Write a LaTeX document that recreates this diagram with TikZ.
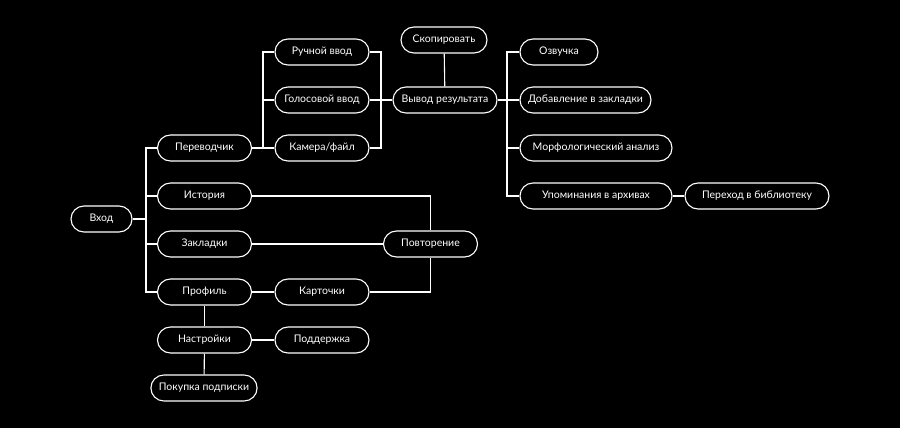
\documentclass[tikz,border=0pt]{standalone}
\usepackage{fontspec}
\setmainfont{Lato}
\tikzset{
  box/.style={draw=white, line width=1.1pt, rounded corners=13pt, minimum height=26pt,
    minimum width=94pt, inner xsep=8pt, text=white, font=\fontsize{10.5}{12}\selectfont},
  link/.style={draw=white, line width=1.1pt}
}
\begin{document}
\begin{tikzpicture}[x=1pt, y=-1pt]
    % background and frame
    \fill[black] (0,0) rectangle (900,428);
    \useasboundingbox (0,0) rectangle (900,428);

    % Left column
    \node[box, minimum width=61pt] (vhod) at (101.5,219) {Вход};
    \node[box] (perevod) at (204.5,148) {Переводчик};
    \node[box] (istoria) at (204.5,196) {История};
    \node[box] (zakl) at (204.5,244) {Закладки};
    \node[box] (profil) at (204.5,292) {Профиль};
    \node[box] (nastr) at (204.5,340) {Настройки};
    \node[box, minimum width=106pt] (pokup) at (204,388) {Покупка подписки};

    % Translator inputs
    \node[box] (ruchn) at (322,52) {Ручной ввод};
    \node[box] (golos) at (322,100) {Голосовой ввод};
    \node[box] (kamera) at (322,148) {Камера/файл};
    \node[box] (kart) at (322,292) {Карточки};
    \node[box] (podd) at (322,340) {Поддержка};

    % Result
    \node[box, minimum width=86pt] (skop) at (444,40) {Скопировать};
    \node[box, minimum width=104pt] (vyvod) at (445,100) {Вывод результата};
    \node[box] (povt) at (430.5,244) {Повторение};

    % Result actions
    \node[box, minimum width=78pt] (ozv) at (559,52) {Озвучка};
    \node[box, minimum width=131pt] (dobav) at (585.5,100) {Добавление в закладки};
    \node[box, minimum width=152pt] (morf) at (596,148) {Морфологический анализ};
    \node[box, minimum width=152pt] (upom) at (596,196) {Упоминания в архивах};
    \node[box, minimum width=144pt] (perehod) at (757,196) {Переход в библиотеку};

    % Junctions
    \coordinate (jL) at (146,219);
    \coordinate (jIn) at (263,148);
    \coordinate (jOut) at (381,100);
    \coordinate (jR) at (507,100);

    % Connectors
    \draw[link] (vhod) -- (jL);
    \draw[link] (perevod.west) -| (jL) |- (profil.west);
    \draw[link] (istoria.west) -| (jL);
    \draw[link] (zakl.west) -| (jL);

    \draw[link] (perevod) -- (kamera);
    \draw[link] (ruchn.west) -| (jIn);
    \draw[link] (golos.west) -| (jIn);

    \draw[link] (ruchn.east) -| (jOut) |- (kamera.east);
    \draw[link] (golos) -- (vyvod);
    \draw[link] (skop) -- (vyvod);

    \draw[link] (vyvod) -- (jR);
    \draw[link] (ozv.west) -| (jR) |- (upom.west);
    \draw[link] (dobav) -- (jR);
    \draw[link] (morf.west) -| (jR);
    \draw[link] (upom) -- (perehod);

    \draw[link] (istoria.east) -| (povt.north);
    \draw[link] (zakl) -- (povt);
    \draw[link] (kart.east) -| (povt.south);

    \draw[link] (profil) -- (kart);
    \draw[link] (profil) -- (nastr);
    \draw[link] (nastr) -- (podd);
    \draw[link] (nastr) -- (pokup);
\end{tikzpicture}
\end{document}
